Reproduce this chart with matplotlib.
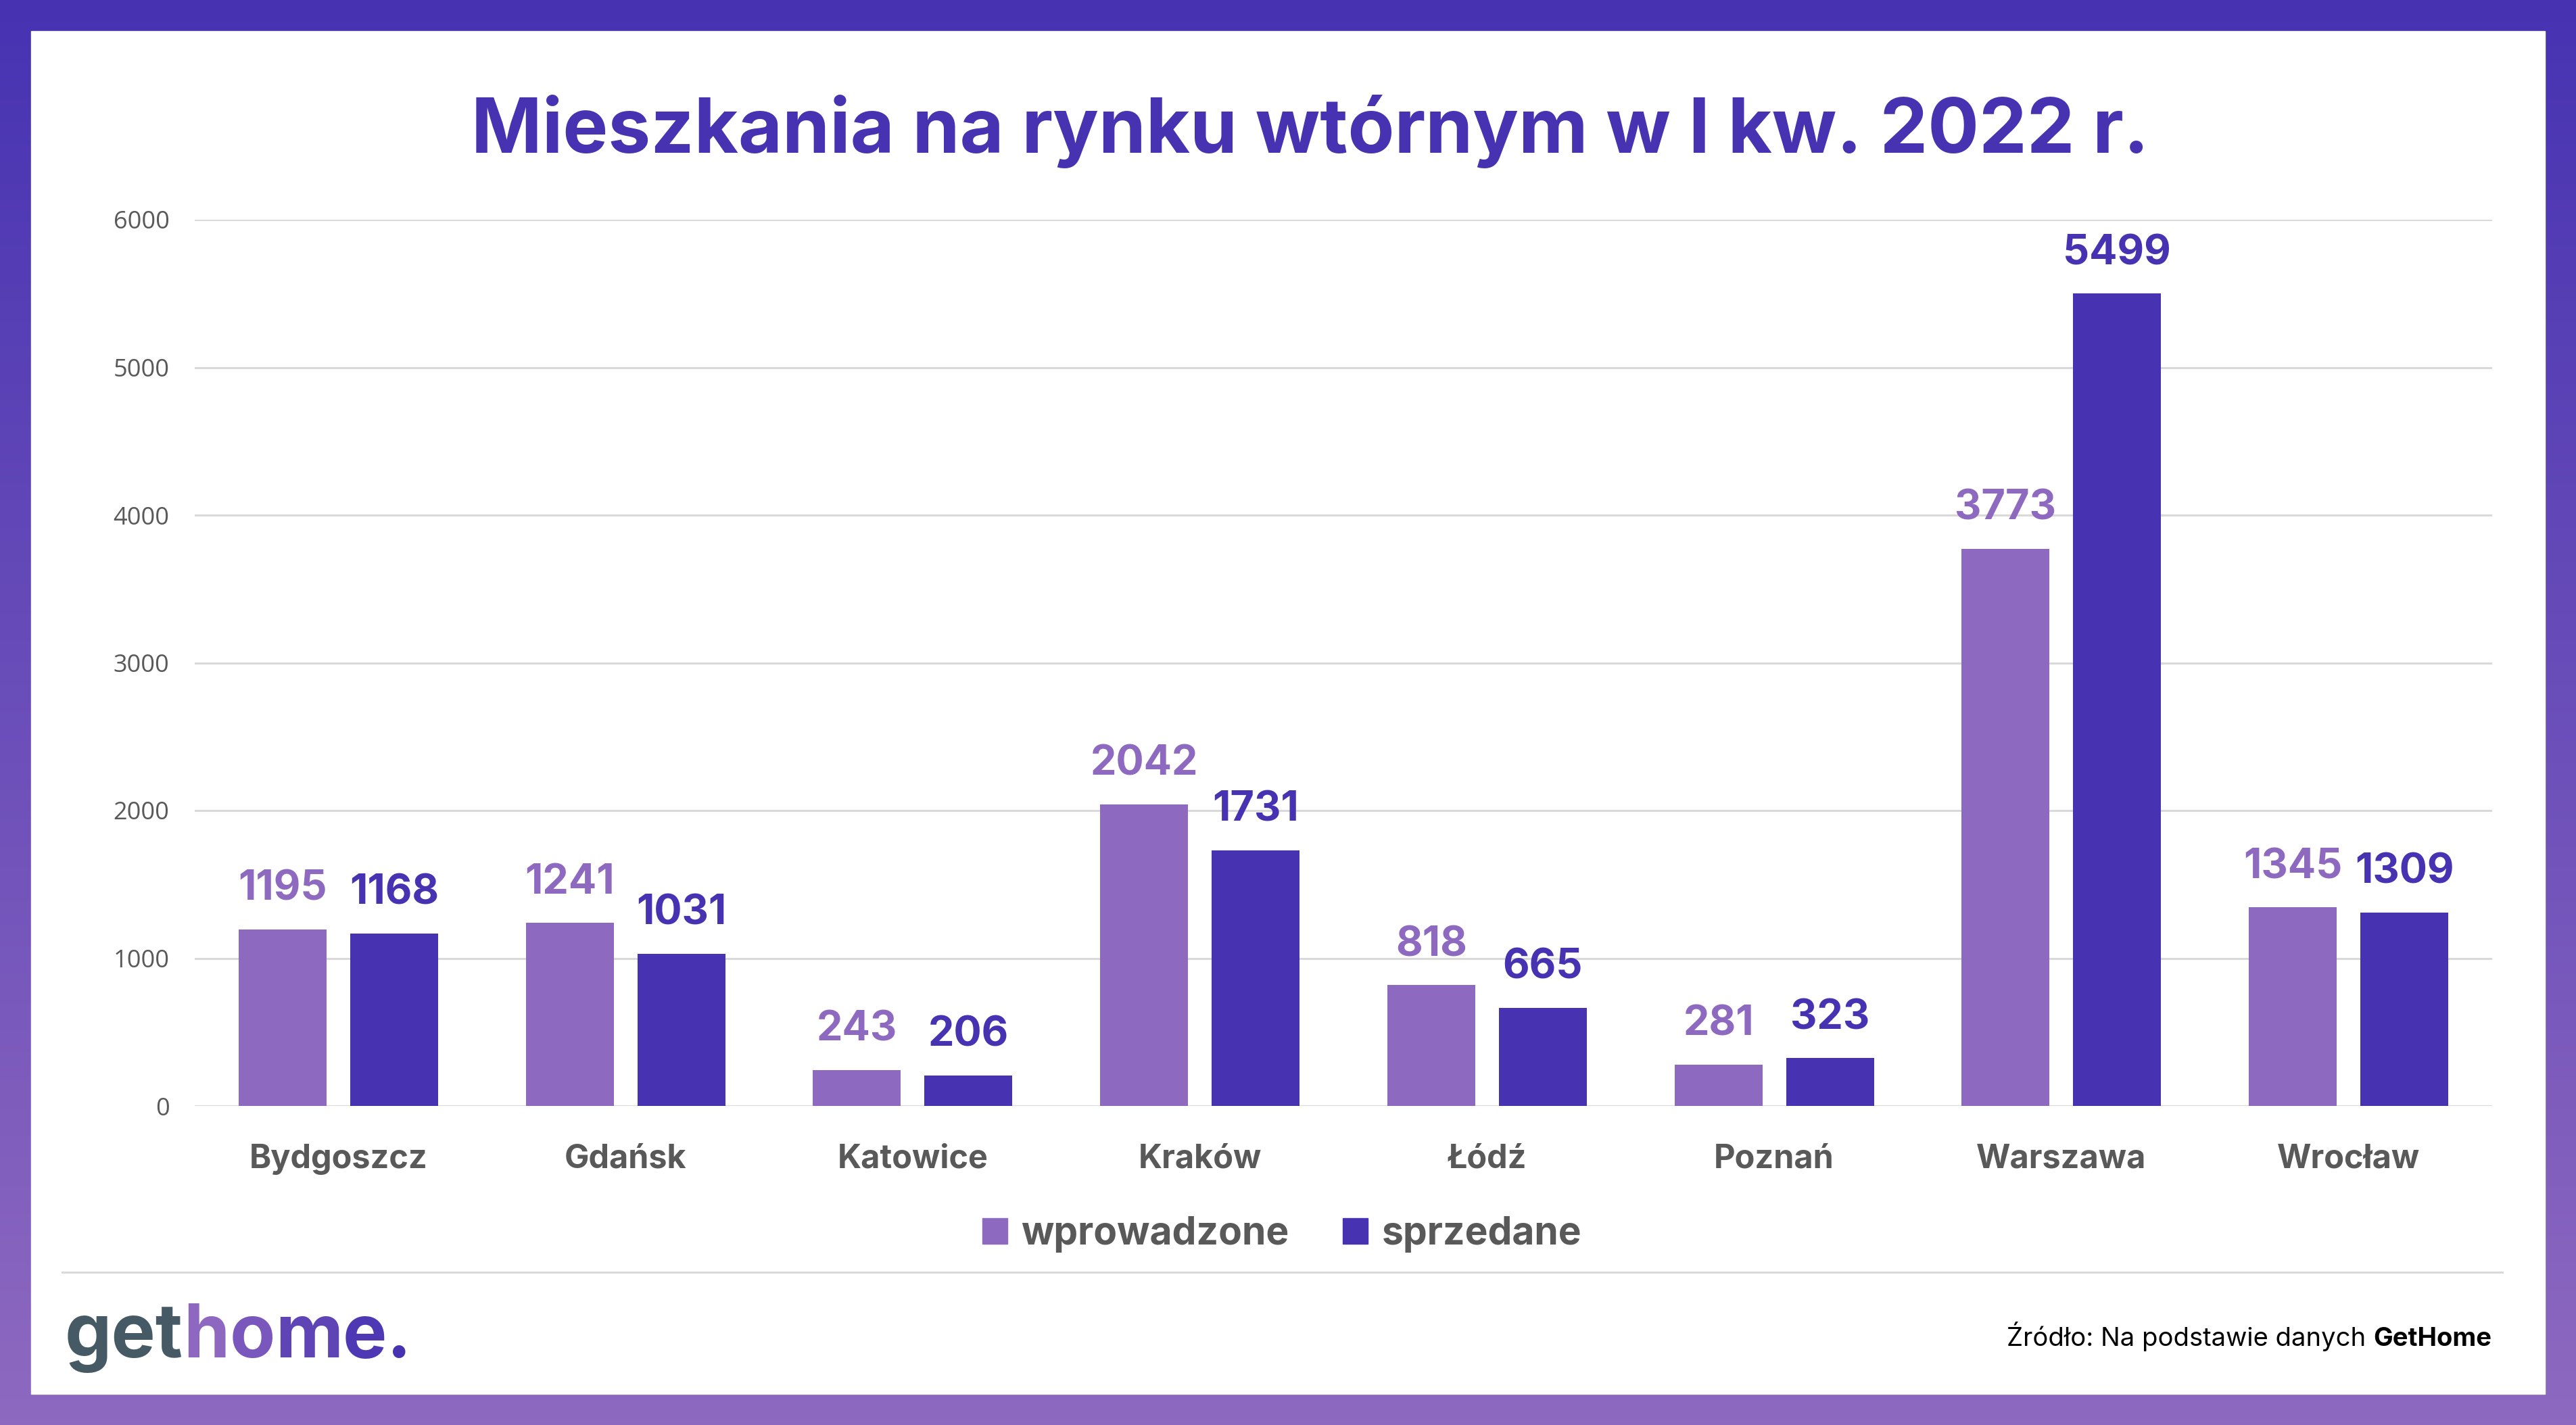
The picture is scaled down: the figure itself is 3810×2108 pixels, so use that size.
import numpy as np
import matplotlib
matplotlib.use("Agg")
import matplotlib.pyplot as plt
from matplotlib.patches import Rectangle, Patch
from matplotlib.colors import LinearSegmentedColormap

# data
cities = ["Bydgoszcz", "Gdańsk", "Katowice", "Kraków", "Łódź", "Poznań", "Warszawa", "Wrocław"]
wprowadzone = [1195, 1241, 243, 2042, 818, 281, 3773, 1345]
sprzedane = [1168, 1031, 206, 1731, 665, 323, 5499, 1309]
series_names = ["wprowadzone", "sprzedane"]
y_ticks = [0, 1000, 2000, 3000, 4000, 5000, 6000]

title = "Mieszkania na rynku wtórnym w I kw. 2022 r."
source_regular = "Źródło: Na podstawie danych "
source_bold = "GetHome"

LIGHT = "#8E69C0"
DARK = "#4733B2"
GRAY = "#595959"
GRID = "#D9D9D9"
SLATE = "#455A64"
FONT = ["Inter", "DejaVu Sans"]

W, H = 3810, 2108
fig = plt.figure(figsize=(W / 100, H / 100), dpi=100)

# gradient frame + white card
bg = fig.add_axes([0, 0, 1, 1])
bg.axis("off")
grad = np.linspace(0, 1, 256).reshape(-1, 1)
cmap = LinearSegmentedColormap.from_list("frame", [DARK, LIGHT])
bg.imshow(grad, aspect="auto", cmap=cmap, extent=[0, 1, 0, 1], origin="upper")
bg.set_xlim(0, 1)
bg.set_ylim(0, 1)
bg.add_patch(Rectangle((46 / W, 46 / H), (W - 92) / W, (H - 92) / H, color="white", zorder=2))
bg.plot([92 / W, 3701 / W], [1 - 1882 / H] * 2, color=GRID, lw=2.2, zorder=3)

fig.text(1938 / W, 1 - 226 / H, title, ha="center", va="baseline", fontsize=81,
         fontweight="bold", color=DARK, family=FONT)

# chart
ax = fig.add_axes([288 / W, 472 / H, 3398 / W, 1311 / H])
x = np.arange(len(cities))
off, bw = 0.194, 0.306
ax.bar(x - off, wprowadzone, bw, color=LIGHT, zorder=3)
ax.bar(x + off, sprzedane, bw, color=DARK, zorder=3)
ax.set_xlim(-0.5, len(cities) - 0.5)
ax.set_ylim(0, 6000)
ax.set_yticks(y_ticks)
ax.set_xticks(x)
ax.set_xticklabels(cities, fontsize=35, fontweight="bold", color=GRAY, family=FONT)
ax.set_yticklabels([str(t) for t in y_ticks], fontsize=26, color=GRAY, family=["Open Sans", "DejaVu Sans"])
ax.tick_params(axis="both", length=0)
ax.tick_params(axis="x", pad=40)
ax.tick_params(axis="y", pad=27)
ax.yaxis.grid(True, color=GRID, lw=2.2)
ax.set_axisbelow(True)
for s in ax.spines.values():
    s.set_visible(False)

for xi, v in zip(x, wprowadzone):
    ax.annotate(str(v), (xi - off, v), xytext=(0, 31), textcoords="offset points",
                ha="center", va="baseline", fontsize=44, fontweight="bold", color=LIGHT, family=FONT)
for xi, v in zip(x, sprzedane):
    ax.annotate(str(v), (xi + off, v), xytext=(0, 31), textcoords="offset points",
                ha="center", va="baseline", fontsize=44, fontweight="bold", color=DARK, family=FONT)

handles = [Patch(color=LIGHT, label=series_names[0]), Patch(color=DARK, label=series_names[1])]
fig.legend(handles=handles, loc="center", bbox_to_anchor=(1896 / W, 1 - 1826 / H), ncol=2,
           frameon=False, handlelength=0.65, handleheight=0.65, handletextpad=0.36,
           columnspacing=1.4, prop={"family": FONT, "weight": "bold", "size": 41},
           labelcolor=GRAY)

# source
sb = fig.text(3685 / W, 1 - 1991 / H, source_bold, ha="right", va="baseline", fontsize=27.5,
              fontweight="bold", color="black", family=FONT)
bg.annotate(source_regular, xy=(0, 0), xycoords=sb, ha="right", va="bottom",
            fontsize=27.5, color="black", family=FONT, annotation_clip=False)

# logo
pieces = [("get", SLATE), ("h", "#8E67C0"), ("o", "#7A57BC"), ("m", "#5F44B6"), ("e", "#4E38B3"), (".", DARK)]
prev = fig.text(96 / W, 1 - 2007 / H, pieces[0][0], ha="left", va="baseline", fontsize=79,
                fontweight="bold", color=pieces[0][1], family=FONT)
for txt, col in pieces[1:]:
    prev = bg.annotate(txt, xy=(1, 0), xycoords=prev, ha="left", va="bottom", fontsize=79,
                       fontweight="bold", color=col, family=FONT, annotation_clip=False)

fig.savefig("out.png", dpi=100)
